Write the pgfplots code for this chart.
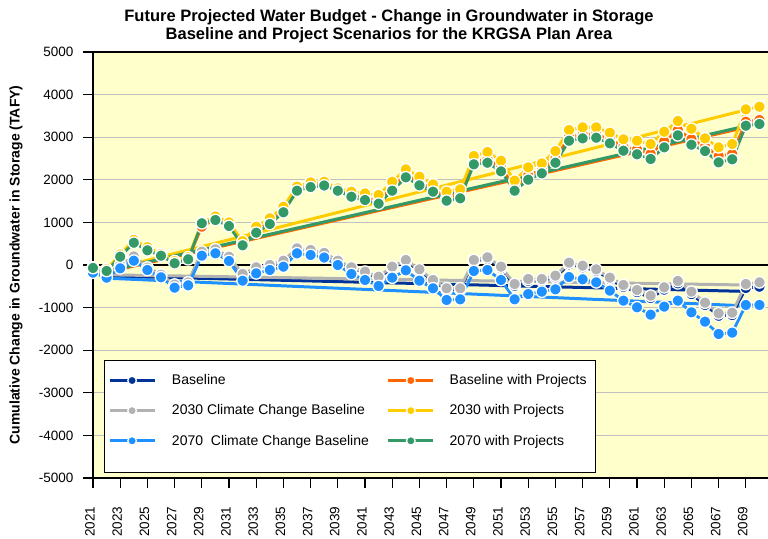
\documentclass[border=0pt]{standalone}
\usepackage{fontspec}
\setmainfont{Liberation Sans}
\usepackage{pgfplots}
\usepackage{pgfplotstable}
\pgfplotsset{compat=1.18}
\definecolor{cBase}{RGB}{0,51,153}
\definecolor{cGray}{RGB}{178,178,178}
\definecolor{cLBlue}{RGB}{30,144,255}
\definecolor{cOrange}{RGB}{255,102,0}
\definecolor{cYellow}{RGB}{255,204,0}
\definecolor{cGreen}{RGB}{51,153,102}
\definecolor{bgYellow}{RGB}{255,255,204}
\definecolor{gridGray}{RGB}{192,192,192}

\pgfplotstableread{
yr base cc30 cc70 bwp w30 w70
2021 -110 -100 -180 -65 -60 -70
2022 -238 -230 -297 -126 -100 -140
2023 -9 0 -78 214 250 195
2024 188 200 101 546 590 523
2025 -67 -60 -117 371 420 345
2026 -237 -230 -289 233 260 218
2027 -469 -460 -532 58 90 40
2028 -418 -410 -477 150 180 134
2029 302 313 219 900 1000 979
2030 357 368 274 1085 1140 1056
2031 183 195 94 945 1000 915
2032 -230 -211 -368 496 560 462
2033 -71 -54 -196 807 899 758
2034 -14 0 -117 1009 1096 962
2035 84 101 -39 1283 1368 1237
2036 377 391 274 1778 1840 1744
2037 338 352 235 1869 1940 1830
2038 272 285 176 1897 1955 1866
2039 89 101 0 1763 1799 1744
2040 -73 -54 -211 1644 1721 1603
2041 -180 -157 -352 1580 1682 1525
2042 -300 -274 -493 1510 1643 1439
2043 -70 -39 -297 1818 1955 1744
2044 88 117 -125 2123 2245 2058
2045 -134 -102 -368 1941 2073 1870
2046 -375 -352 -547 1781 1893 1721
2047 -580 -547 -821 1584 1721 1510
2048 -578 -547 -806 1639 1776 1565
2049 86 117 -141 2431 2558 2363
2050 144 180 -117 2489 2652 2401
2051 -77 -39 -352 2286 2448 2198
2052 -489 -446 -806 1827 1980 1744
2053 -371 -329 -681 2104 2292 2003
2054 -365 -329 -626 2233 2386 2151
2055 -289 -250 -571 2497 2675 2401
2056 15 55 -282 3005 3168 2917
2057 -54 -16 -336 3063 3231 2973
2058 -139 -102 -407 3073 3231 2988
2059 -334 -297 -602 2943 3105 2856
2060 -513 -469 -837 2776 2950 2683
2061 -636 -587 -993 2710 2917 2598
2062 -774 -720 -1166 2605 2840 2488
2063 -578 -524 -978 2900 3129 2762
2064 -430 -375 -837 3168 3380 3044
2065 -684 -626 -1111 2955 3199 2824
2066 -938 -884 -1330 2776 2973 2675
2067 -1192 -1134 -1619 2558 2762 2410
2068 -1175 -1119 -1588 2605 2840 2481
2069 -540 -446 -939 3363 3654 3270
2070 -510 -407 -939 3403 3715 3309
}\datatable

\pgfplotstableread{
yr base cc30 cc70 bwp w30 w70
2022 -260 -230 -310 -170 -130 -150
2069 -620 -470 -960 3230 3640 3262
}\trendtable

\pgfplotsset{
 ser/.style={color=#1, line width=2.8pt, mark=*, mark size=5.8pt,
   mark options={fill=#1, draw=white, line width=1.3pt, solid}},
 trend/.style={color=#1, line width=3pt, mark=none, forget plot},
}

\begin{document}
\begin{tikzpicture}
\begin{axis}[
  scale only axis,
  width=675pt, height=426pt,
  xmin=2021, xmax=2070.63,
  ymin=-5000, ymax=5000,
  clip=false,
  axis background/.style={fill=bgYellow},
  axis x line*=bottom, axis y line*=left,
  axis line style={black, line width=1.8pt, -},
  xtick={2021,2023,...,2069},
  ytick={-5000,-4000,...,5000},
  tick align=outside,
  major tick length=10pt,
  tick style={black, line width=1.2pt},
  ymajorgrids,
  major grid style={gridGray, line width=1pt},
  extra y ticks={0,5000},
  extra y tick labels={},
  extra y tick style={major grid style={black, line width=1.3pt}},
  /pgf/number format/assume math mode=true,
  /pgf/number format/1000 sep={},
  ticklabel style={font=\fontsize{13.5}{16}\selectfont},
  xticklabel style={xshift=-3pt, rotate=90, anchor=east},
  xticklabel shift=15pt,
  yticklabel shift=6pt,
  ylabel={Cumulative Change in Groundwater in Storage (TAFY)},
  ylabel style={at={(rel axis cs:-0.114,0.5)}, anchor=center,
    font=\bfseries\fontsize{14}{17}\selectfont},
  title={Future Projected Water Budget - Change in Groundwater in Storage\\Baseline and Project Scenarios for the KRGSA Plan Area},
  title style={at={(rel axis cs:0.4385,1)}, anchor=south, yshift=0pt, align=center,
    font=\bfseries\fontsize{16.5}{18}\selectfont},
  legend columns=2,
  legend cell align=left,
  legend image code/.code={
    \draw[#1, mark=none] (0pt,0pt) -- (45pt,0pt);
    \draw[#1, mark size=4.3pt] plot coordinates {(22.5pt,0pt)};
  },
  legend style={at={(rel axis cs:0.0163,0.277)}, anchor=north west,
    draw=none, fill=none, font=\fontsize{14}{17}\selectfont,
    inner xsep=4pt, inner ysep=12.5pt, row sep=14.5pt,
    /tikz/column 1/.style={column sep=14pt},
    /tikz/column 2/.style={column sep=16pt},
    /tikz/column 3/.style={column sep=13pt}},
]
\coordinate (sw) at (rel axis cs:0,0);
\coordinate (ne) at (rel axis cs:1,1);
\draw[black, line width=0.9pt, fill=white] (rel axis cs:0.0163,0.277) rectangle (rel axis cs:0.7437,0.0141);

\addlegendimage{ser=cBase}
\addlegendentry{Baseline}
\addlegendimage{ser=cOrange}
\addlegendentry{Baseline with Projects}
\addlegendimage{ser=cGray}
\addlegendentry{2030 Climate Change Baseline}
\addlegendimage{ser=cYellow}
\addlegendentry{2030 with Projects}
\addlegendimage{ser=cLBlue}
\addlegendentry{2070\ \ Climate Change Baseline}
\addlegendimage{ser=cGreen}
\addlegendentry{2070 with Projects}

\addplot[trend=cBase] table[x=yr, y=base] {\trendtable};
\addplot[trend=cGray] table[x=yr, y=cc30] {\trendtable};
\addplot[trend=cLBlue] table[x=yr, y=cc70] {\trendtable};
\addplot[trend=cOrange] table[x=yr, y=bwp] {\trendtable};
\addplot[trend=cYellow] table[x=yr, y=w30] {\trendtable};
\addplot[trend=cGreen] table[x=yr, y=w70] {\trendtable};

\addplot[ser=cBase, forget plot] table[x=yr, y=base] {\datatable};
\addplot[ser=cGray, forget plot] table[x=yr, y=cc30] {\datatable};
\addplot[ser=cLBlue, forget plot] table[x=yr, y=cc70] {\datatable};
\addplot[ser=cOrange, forget plot] table[x=yr, y=bwp] {\datatable};
\addplot[ser=cYellow, forget plot] table[x=yr, y=w30] {\datatable};
\addplot[ser=cGreen, forget plot] table[x=yr, y=w70] {\datatable};
\end{axis}
\pgfresetboundingbox
\path ([xshift=-93pt,yshift=-61pt]sw) rectangle ([yshift=52pt]ne);
\end{tikzpicture}
\end{document}
